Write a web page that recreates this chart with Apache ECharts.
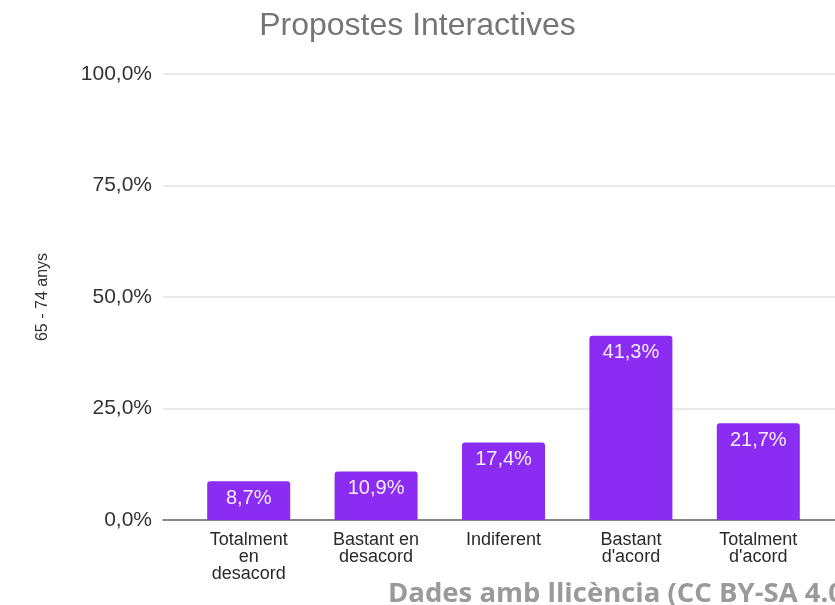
<!DOCTYPE html>
<html>
<head>
<meta charset="utf-8">
<script src="https://cdn.jsdelivr.net/npm/echarts@6/dist/echarts.min.js"></script>
<style>html,body{margin:0;padding:0;background:#fff;}#c{width:835px;height:605px;}</style>
</head>
<body>
<div id="c"></div>
<script>
const titleText = 'Propostes Interactives';
const yAxisName = '65 - 74 anys';
const categories = ['Totalment\nen\ndesacord', 'Bastant en\ndesacord', 'Indiferent', 'Bastant\nd\'acord', 'Totalment\nd\'acord'];
const values = [8.7, 10.9, 17.4, 41.3, 21.7];
const yTicks = [0, 25, 50, 75, 100];
const footerText = 'Dades amb llicència (CC BY-SA 4.0)';

const fmt = v => v.toFixed(1).replace('.', ',') + '%';
const chart = echarts.init(document.getElementById('c'), null, {renderer: 'canvas'});
const FONT = '"Liberation Sans", Arial, sans-serif';
chart.setOption({
  animation: false,
  backgroundColor: '#ffffff',
  title: {
    text: titleText, left: 'center', top: 5,
    textStyle: {fontFamily: FONT, fontSize: 32, fontWeight: 'normal', color: '#757575'}
  },
  grid: [
    {left: 163, right: 0, top: 74, bottom: 85},
    {left: 185, right: 13, top: 74, bottom: 85}
  ],
  xAxis: [
    {type: 'category', gridIndex: 0, data: categories.map(() => ''),
     axisLine: {show: true, lineStyle: {color: '#666', width: 1.5}},
     axisTick: {show: false}, axisLabel: {show: false}},
    {type: 'category', gridIndex: 1, data: categories,
     axisLine: {show: false}, axisTick: {show: false},
     axisLabel: {fontFamily: FONT, fontSize: 18, color: '#2a2a2a', lineHeight: 17, margin: 12, interval: 0}}
  ],
  yAxis: [
    {type: 'value', gridIndex: 0, min: 0, max: 100, interval: 25,
     name: yAxisName, nameLocation: 'middle', nameGap: 112,
     nameTextStyle: {fontFamily: FONT, fontSize: 16, color: '#333'},
     axisLabel: {fontFamily: FONT, fontSize: 21, color: '#333', margin: 11,
                 formatter: v => yTicks.includes(v) ? fmt(v) : ''},
     splitLine: {lineStyle: {color: '#e3e3e3', width: 1.5}},
     axisLine: {show: false}, axisTick: {show: false}},
    {type: 'value', gridIndex: 1, min: 0, max: 100, interval: 25, show: false,
     splitLine: {show: false}}
  ],
  series: [{
    type: 'bar', xAxisIndex: 1, yAxisIndex: 1, data: values, barWidth: 83,
    itemStyle: {color: '#8b2cf2', borderRadius: [3, 3, 0, 0]},
    label: {show: true, position: 'insideTop', distance: 7, formatter: p => fmt(p.value),
            fontFamily: FONT, fontSize: 20, color: '#f6ecff'}
  }],
  graphic: [{
    type: 'text', left: 388, top: 580,
    style: {text: footerText, fontFamily: '"Open Sans", "Noto Sans", sans-serif', fontWeight: 'bold',
            fontSize: 27.5, fill: '#9a9a9a'}
  }]
});
</script>
</body>
</html>
